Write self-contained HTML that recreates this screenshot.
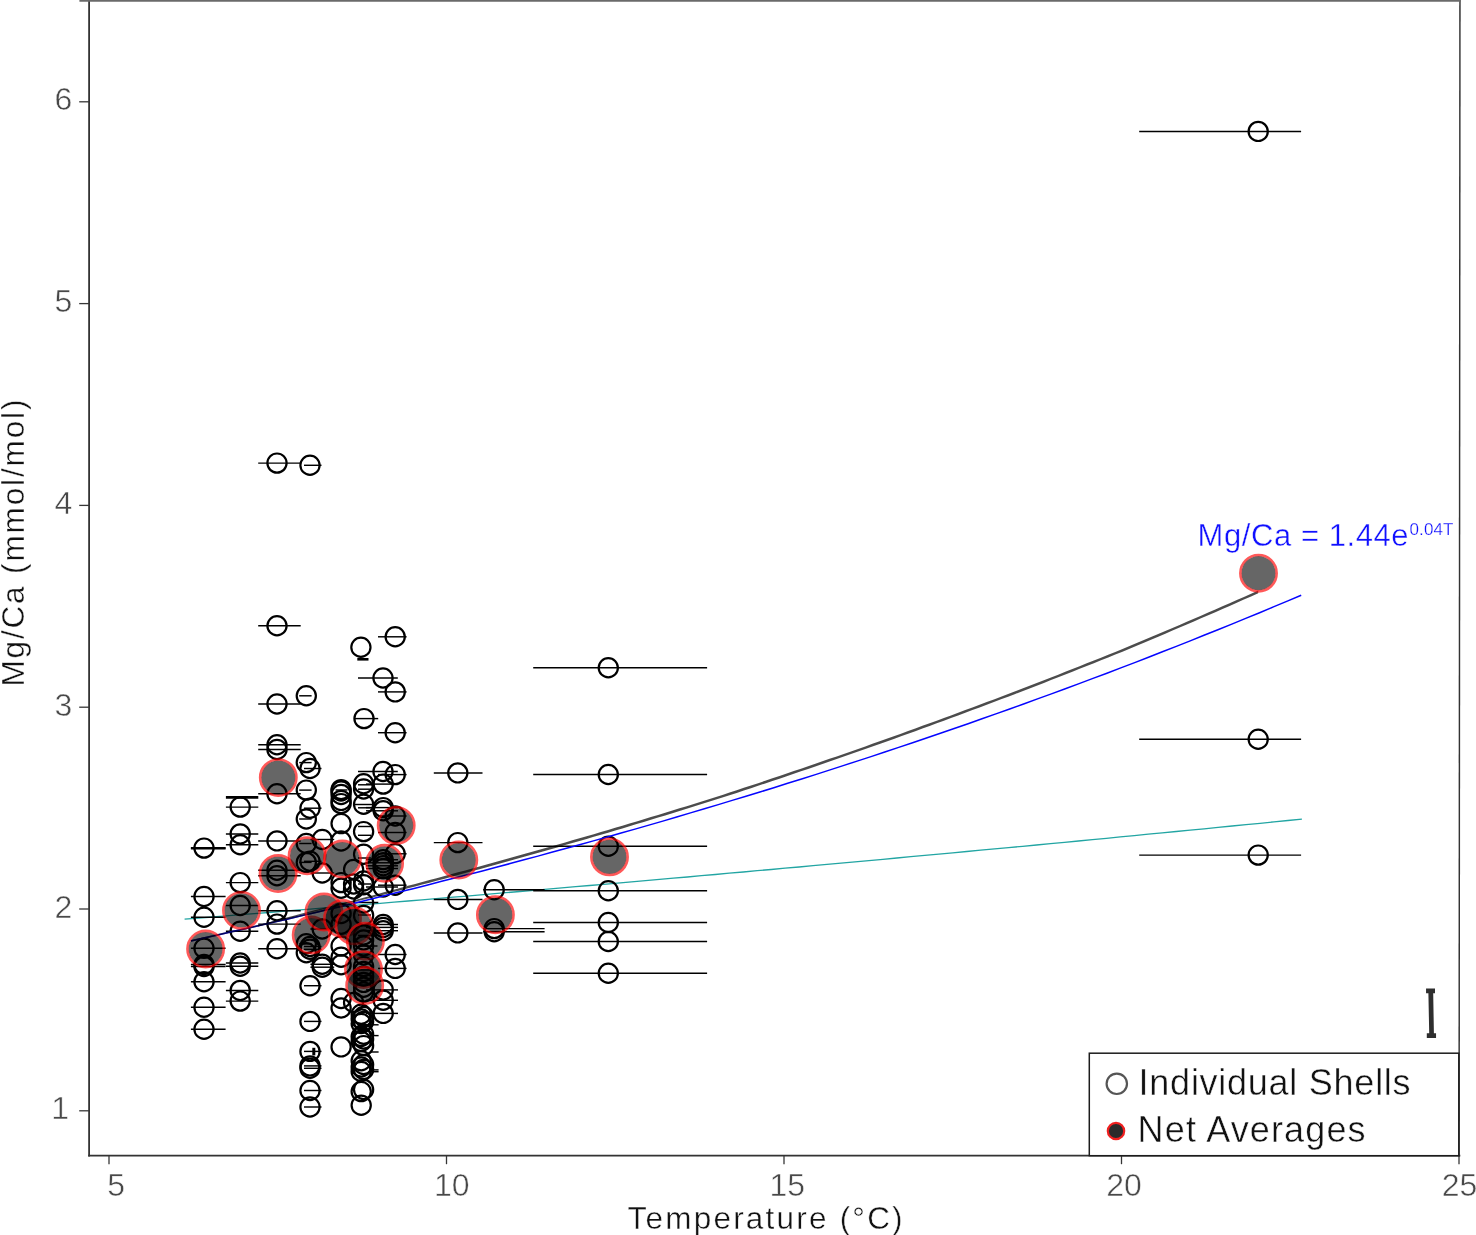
<!DOCTYPE html>
<html><head><meta charset="utf-8"><title>Mg/Ca vs Temperature</title>
<style>
html,body{margin:0;padding:0;background:#fff;}
body{width:1476px;height:1235px;overflow:hidden;}
svg{display:block;}
text{font-family:"Liberation Sans",sans-serif;}
svg{will-change:transform;}
.tk text{font-size:32px;fill:#484848;stroke:#fff;stroke-width:.5px;}
.ax{font-size:31.5px;fill:#111;stroke:#fff;stroke-width:.4px;}
.eq{font-size:31px;fill:#1010ff;stroke:#fff;stroke-width:.4px;}
.sup{font-size:17px;stroke-width:.25px;}
.lg{font-size:36px;fill:#111;stroke:#fff;stroke-width:.45px;}
</style></head><body>
<svg width="1476" height="1235" viewBox="0 0 1476 1235">
<rect width="100%" height="100%" fill="#fff"/>
<g stroke="#333" stroke-width="1.8" fill="none">
<line x1="89.1" y1="0" x2="89.1" y2="1156.5"/>
<line x1="88.2" y1="1155.7" x2="1460.3" y2="1155.7"/>
<line x1="1459.95" y1="0" x2="1459.1" y2="1156.5" stroke-width="1.45"/>
</g>
<line x1="79.4" y1="0.9" x2="1460.7" y2="0.9" stroke="#6a6a6a" stroke-width="1.9"/>
<g stroke="#363636" stroke-width="1.3">
<line x1="79.2" y1="1110.8" x2="89" y2="1110.8"/>
<line x1="79.2" y1="909.0" x2="89" y2="909.0"/>
<line x1="79.2" y1="707.2" x2="89" y2="707.2"/>
<line x1="79.2" y1="505.4" x2="89" y2="505.4"/>
<line x1="79.2" y1="303.6" x2="89" y2="303.6"/>
<line x1="79.2" y1="101.8" x2="89" y2="101.8"/>
<line x1="109.0" y1="1155.7" x2="109.0" y2="1164.2"/>
<line x1="446.5" y1="1155.7" x2="446.5" y2="1164.2"/>
<line x1="784.0" y1="1155.7" x2="784.0" y2="1164.2"/>
<line x1="1121.5" y1="1155.7" x2="1121.5" y2="1164.2"/>
<line x1="1459.0" y1="1155.7" x2="1459.0" y2="1164.2"/>
</g>
<g class="tk">
<text x="69.0" y="1119.3" text-anchor="end">1</text>
<text x="72.3" y="917.5" text-anchor="end">2</text>
<text x="72.3" y="715.7" text-anchor="end">3</text>
<text x="72.3" y="513.9" text-anchor="end">4</text>
<text x="72.3" y="312.1" text-anchor="end">5</text>
<text x="72.3" y="110.3" text-anchor="end">6</text>
<text x="107.3" y="1196.2">5</text>
<text x="434.0" y="1196.2">10</text>
<text x="769.5" y="1196.2">15</text>
<text x="1106.3" y="1196.2">20</text>
<text x="1441.8" y="1196.2">25</text>
</g>
<text class="ax" x="627.6" y="1228.5" textLength="275" lengthAdjust="spacing">Temperature (°C)</text>
<text class="ax" transform="translate(24.2,686.6) rotate(-90)" textLength="287" lengthAdjust="spacing">Mg/Ca (mmol/mol)</text>
<polyline points="184.6,919.2 198.6,918.1 212.5,917.0 226.5,915.9 240.5,914.7 254.4,913.6 268.4,912.5 282.4,911.3 296.3,910.2 310.3,909.1 324.3,907.9 338.2,906.8 352.2,905.6 366.2,904.4 380.1,903.3 394.1,902.1 408.1,901.0 422.0,899.8 436.0,898.6 450.0,897.4 463.9,896.3 477.9,895.1 491.9,893.9 505.8,892.7 519.8,891.5 533.8,890.3 547.7,889.1 561.7,887.9 575.7,886.7 589.6,885.5 603.6,884.3 617.6,883.1 631.5,881.9 645.5,880.6 659.5,879.4 673.4,878.2 687.4,877.0 701.4,875.7 715.3,874.5 729.3,873.2 743.3,872.0 757.2,870.7 771.2,869.5 785.1,868.2 799.1,867.0 813.1,865.7 827.0,864.4 841.0,863.2 855.0,861.9 868.9,860.6 882.9,859.3 896.9,858.0 910.8,856.7 924.8,855.4 938.8,854.1 952.7,852.8 966.7,851.5 980.7,850.2 994.6,848.9 1008.6,847.6 1022.6,846.3 1036.5,845.0 1050.5,843.6 1064.5,842.3 1078.4,841.0 1092.4,839.6 1106.4,838.3 1120.3,836.9 1134.3,835.6 1148.3,834.2 1162.2,832.9 1176.2,831.5 1190.2,830.1 1204.1,828.8 1218.1,827.4 1232.1,826.0 1246.0,824.6 1260.0,823.3 1274.0,821.9 1287.9,820.5 1301.9,819.1" fill="none" stroke="#22a5a3" stroke-width="1.35"/>
<g stroke="#000" stroke-width="1.45">
<line x1="190.9" y1="848.1" x2="225.6" y2="848.1"/>
<line x1="190.9" y1="896.5" x2="225.6" y2="896.5"/>
<line x1="190.9" y1="917.2" x2="225.6" y2="917.2"/>
<line x1="190.9" y1="948.2" x2="225.6" y2="948.2"/>
<line x1="190.9" y1="964.5" x2="225.6" y2="964.5"/>
<line x1="190.9" y1="966.5" x2="225.6" y2="966.5"/>
<line x1="190.9" y1="981.7" x2="225.6" y2="981.7"/>
<line x1="190.9" y1="1007.2" x2="225.6" y2="1007.2"/>
<line x1="190.9" y1="1029.3" x2="225.6" y2="1029.3"/>
<line x1="225.9" y1="807.1" x2="258.3" y2="807.1"/>
<line x1="225.9" y1="833.9" x2="258.3" y2="833.9"/>
<line x1="225.9" y1="844.7" x2="258.3" y2="844.7"/>
<line x1="225.9" y1="882.6" x2="258.3" y2="882.6"/>
<line x1="225.9" y1="905.5" x2="258.3" y2="905.5"/>
<line x1="225.9" y1="931.2" x2="258.3" y2="931.2"/>
<line x1="225.9" y1="963.0" x2="258.3" y2="963.0"/>
<line x1="225.9" y1="966.3" x2="258.3" y2="966.3"/>
<line x1="225.9" y1="990.4" x2="258.3" y2="990.4"/>
<line x1="225.9" y1="1001.1" x2="258.3" y2="1001.1"/>
<line x1="258.2" y1="463.1" x2="300.7" y2="463.1"/>
<line x1="258.2" y1="625.8" x2="300.7" y2="625.8"/>
<line x1="258.2" y1="704.0" x2="300.7" y2="704.0"/>
<line x1="258.2" y1="744.7" x2="300.7" y2="744.7"/>
<line x1="258.2" y1="749.5" x2="300.7" y2="749.5"/>
<line x1="258.2" y1="793.7" x2="300.7" y2="793.7"/>
<line x1="258.2" y1="840.9" x2="300.7" y2="840.9"/>
<line x1="258.2" y1="870.3" x2="300.7" y2="870.3"/>
<line x1="258.2" y1="875.8" x2="300.7" y2="875.8"/>
<line x1="258.2" y1="910.8" x2="300.7" y2="910.8"/>
<line x1="258.2" y1="924.1" x2="300.7" y2="924.1"/>
<line x1="258.2" y1="948.8" x2="300.7" y2="948.8"/>
<line x1="299.2" y1="695.8" x2="311.6" y2="695.8"/>
<line x1="299.2" y1="762.6" x2="311.6" y2="762.6"/>
<line x1="299.2" y1="790.1" x2="311.6" y2="790.1"/>
<line x1="299.2" y1="819.0" x2="311.6" y2="819.0"/>
<line x1="299.2" y1="843.5" x2="311.6" y2="843.5"/>
<line x1="299.2" y1="862.4" x2="311.6" y2="862.4"/>
<line x1="299.2" y1="943.8" x2="311.6" y2="943.8"/>
<line x1="299.2" y1="952.8" x2="311.6" y2="952.8"/>
<line x1="304.0" y1="465.3" x2="321.5" y2="465.3"/>
<line x1="304.0" y1="768.5" x2="321.5" y2="768.5"/>
<line x1="304.0" y1="808.2" x2="321.5" y2="808.2"/>
<line x1="304.0" y1="861.3" x2="321.5" y2="861.3"/>
<line x1="304.0" y1="946.5" x2="321.5" y2="946.5"/>
<line x1="304.0" y1="949.3" x2="321.5" y2="949.3"/>
<line x1="304.0" y1="985.7" x2="321.5" y2="985.7"/>
<line x1="304.0" y1="1021.4" x2="321.5" y2="1021.4"/>
<line x1="304.0" y1="1051.4" x2="321.5" y2="1051.4"/>
<line x1="304.0" y1="1065.9" x2="321.5" y2="1065.9"/>
<line x1="304.0" y1="1068.3" x2="321.5" y2="1068.3"/>
<line x1="304.0" y1="1090.5" x2="321.5" y2="1090.5"/>
<line x1="304.0" y1="1107.0" x2="321.5" y2="1107.0"/>
<line x1="310.4" y1="839.5" x2="334.2" y2="839.5"/>
<line x1="310.4" y1="873.0" x2="334.2" y2="873.0"/>
<line x1="310.4" y1="929.0" x2="334.2" y2="929.0"/>
<line x1="310.4" y1="964.3" x2="334.2" y2="964.3"/>
<line x1="310.4" y1="967.2" x2="334.2" y2="967.2"/>
<line x1="354.4" y1="718.6" x2="378.2" y2="718.6"/>
<line x1="358.0" y1="678.0" x2="397.8" y2="678.0"/>
<line x1="358.0" y1="771.5" x2="397.8" y2="771.5"/>
<line x1="366.0" y1="784.1" x2="398.0" y2="784.1"/>
<line x1="366.0" y1="807.6" x2="398.0" y2="807.6"/>
<line x1="366.0" y1="810.8" x2="398.0" y2="810.8"/>
<line x1="366.0" y1="859.7" x2="398.0" y2="859.7"/>
<line x1="366.0" y1="862.8" x2="398.0" y2="862.8"/>
<line x1="366.0" y1="865.8" x2="398.0" y2="865.8"/>
<line x1="366.0" y1="868.5" x2="398.0" y2="868.5"/>
<line x1="366.0" y1="887.0" x2="398.0" y2="887.0"/>
<line x1="366.0" y1="924.5" x2="398.0" y2="924.5"/>
<line x1="366.0" y1="927.4" x2="398.0" y2="927.4"/>
<line x1="366.0" y1="930.7" x2="398.0" y2="930.7"/>
<line x1="366.0" y1="989.9" x2="398.0" y2="989.9"/>
<line x1="366.0" y1="1000.3" x2="398.0" y2="1000.3"/>
<line x1="366.0" y1="1013.4" x2="398.0" y2="1013.4"/>
<line x1="378.0" y1="636.8" x2="406.6" y2="636.8"/>
<line x1="378.0" y1="691.9" x2="406.6" y2="691.9"/>
<line x1="378.0" y1="732.7" x2="406.6" y2="732.7"/>
<line x1="378.0" y1="774.6" x2="406.6" y2="774.6"/>
<line x1="378.0" y1="816.0" x2="406.6" y2="816.0"/>
<line x1="378.0" y1="832.5" x2="406.6" y2="832.5"/>
<line x1="378.0" y1="853.8" x2="406.6" y2="853.8"/>
<line x1="378.0" y1="885.2" x2="406.6" y2="885.2"/>
<line x1="378.0" y1="954.5" x2="406.6" y2="954.5"/>
<line x1="378.0" y1="968.4" x2="406.6" y2="968.4"/>
<line x1="433.8" y1="772.9" x2="482.5" y2="772.9"/>
<line x1="433.8" y1="842.6" x2="482.5" y2="842.6"/>
<line x1="433.8" y1="899.4" x2="482.5" y2="899.4"/>
<line x1="433.8" y1="932.9" x2="482.5" y2="932.9"/>
<line x1="483.1" y1="889.8" x2="544.6" y2="889.8"/>
<line x1="483.1" y1="928.6" x2="544.6" y2="928.6"/>
<line x1="483.1" y1="931.7" x2="544.6" y2="931.7"/>
<line x1="533.2" y1="667.7" x2="707.1" y2="667.7"/>
<line x1="533.2" y1="774.5" x2="707.1" y2="774.5"/>
<line x1="533.2" y1="846.2" x2="707.1" y2="846.2"/>
<line x1="533.2" y1="890.8" x2="707.1" y2="890.8"/>
<line x1="533.2" y1="922.5" x2="707.1" y2="922.5"/>
<line x1="533.2" y1="941.5" x2="707.1" y2="941.5"/>
<line x1="533.2" y1="973.2" x2="707.1" y2="973.2"/>
<line x1="1139.2" y1="131.4" x2="1301.1" y2="131.4"/>
<line x1="1139.2" y1="739.2" x2="1301.1" y2="739.2"/>
<line x1="1139.2" y1="855.1" x2="1301.1" y2="855.1"/>
</g>
<line x1="335.6" y1="790.0" x2="347.4" y2="790.0" stroke="#000" stroke-width="1.45"/>
<line x1="355.7" y1="902.5" x2="378.3" y2="902.5" stroke="#000" stroke-width="1.45"/>
<line x1="370" y1="1024.8" x2="378.6" y2="1024.8" stroke="#000" stroke-width="1.45"/>
<line x1="370" y1="1035.6" x2="378.6" y2="1035.6" stroke="#000" stroke-width="1.45"/>
<line x1="370" y1="1052.0" x2="378.6" y2="1052.0" stroke="#000" stroke-width="1.45"/>
<line x1="370" y1="1069.9" x2="378.6" y2="1069.9" stroke="#000" stroke-width="1.45"/>
<line x1="370" y1="1071.7" x2="378.6" y2="1071.7" stroke="#000" stroke-width="1.45"/>
<line x1="358" y1="784.8" x2="371.5" y2="784.8" stroke="#000" stroke-width="1.45"/>
<line x1="358" y1="789.2" x2="371.5" y2="789.2" stroke="#000" stroke-width="1.45"/>
<line x1="355" y1="804.5" x2="372.2" y2="804.5" stroke="#000" stroke-width="1.45"/>
<line x1="358" y1="807.8" x2="371.5" y2="807.8" stroke="#000" stroke-width="1.45"/>
<line x1="358" y1="826.5" x2="371" y2="826.5" stroke="#000" stroke-width="1.45"/>
<line x1="358" y1="835.3" x2="371" y2="835.3" stroke="#000" stroke-width="1.45"/>
<line x1="358" y1="858.0" x2="371" y2="858.0" stroke="#000" stroke-width="1.45"/>
<line x1="358" y1="884.0" x2="371" y2="884.0" stroke="#000" stroke-width="1.45"/>
<line x1="358" y1="946.0" x2="377.5" y2="946.0" stroke="#000" stroke-width="1.45"/>
<line x1="358" y1="935.5" x2="377.5" y2="935.5" stroke="#000" stroke-width="1.45"/>
<line x1="358" y1="915.0" x2="371" y2="915.0" stroke="#000" stroke-width="1.45"/>
<line x1="358" y1="970.0" x2="371" y2="970.0" stroke="#000" stroke-width="1.45"/>
<line x1="358" y1="985.0" x2="371" y2="985.0" stroke="#000" stroke-width="1.45"/>
<line x1="225.9" y1="797.4" x2="258.3" y2="797.4" stroke="#000" stroke-width="2.8"/>
<line x1="190.9" y1="848.3" x2="225.6" y2="848.3" stroke="#000" stroke-width="2.6"/>
<line x1="357.3" y1="659.3" x2="368.5" y2="659.3" stroke="#000" stroke-width="2.6"/>
<line x1="313.8" y1="1047.8" x2="313.8" y2="1055.4" stroke="#000" stroke-width="3"/>
<g fill="none" stroke="#000" stroke-width="2.2">
<circle cx="204.0" cy="848.1" r="9.6"/>
<circle cx="204.0" cy="896.5" r="9.6"/>
<circle cx="204.0" cy="917.2" r="9.6"/>
<circle cx="204.0" cy="948.2" r="9.6"/>
<circle cx="204.0" cy="964.5" r="9.6"/>
<circle cx="204.0" cy="966.5" r="9.6"/>
<circle cx="204.0" cy="981.7" r="9.6"/>
<circle cx="204.0" cy="1007.2" r="9.6"/>
<circle cx="204.0" cy="1029.3" r="9.6"/>
<circle cx="240.2" cy="807.1" r="9.6"/>
<circle cx="240.2" cy="833.9" r="9.6"/>
<circle cx="240.2" cy="844.7" r="9.6"/>
<circle cx="240.2" cy="882.6" r="9.6"/>
<circle cx="240.2" cy="905.5" r="9.6"/>
<circle cx="240.2" cy="931.2" r="9.6"/>
<circle cx="240.2" cy="963.0" r="9.6"/>
<circle cx="240.2" cy="966.3" r="9.6"/>
<circle cx="240.2" cy="990.4" r="9.6"/>
<circle cx="240.2" cy="1001.1" r="9.6"/>
<circle cx="277.0" cy="463.1" r="9.6"/>
<circle cx="277.0" cy="625.8" r="9.6"/>
<circle cx="277.0" cy="704.0" r="9.6"/>
<circle cx="277.0" cy="744.7" r="9.6"/>
<circle cx="277.0" cy="749.5" r="9.6"/>
<circle cx="277.0" cy="793.7" r="9.6"/>
<circle cx="277.0" cy="840.9" r="9.6"/>
<circle cx="277.0" cy="870.3" r="9.6"/>
<circle cx="277.0" cy="875.8" r="9.6"/>
<circle cx="277.0" cy="910.8" r="9.6"/>
<circle cx="277.0" cy="924.1" r="9.6"/>
<circle cx="277.0" cy="948.8" r="9.6"/>
<circle cx="306.3" cy="695.8" r="9.6"/>
<circle cx="306.3" cy="762.6" r="9.6"/>
<circle cx="306.3" cy="790.1" r="9.6"/>
<circle cx="306.3" cy="819.0" r="9.6"/>
<circle cx="306.3" cy="843.5" r="9.6"/>
<circle cx="306.3" cy="862.4" r="9.6"/>
<circle cx="306.3" cy="943.8" r="9.6"/>
<circle cx="306.3" cy="952.8" r="9.6"/>
<circle cx="310.0" cy="465.3" r="9.6"/>
<circle cx="310.0" cy="768.5" r="9.6"/>
<circle cx="310.0" cy="808.2" r="9.6"/>
<circle cx="310.0" cy="861.3" r="9.6"/>
<circle cx="310.0" cy="946.5" r="9.6"/>
<circle cx="310.0" cy="949.3" r="9.6"/>
<circle cx="310.0" cy="985.7" r="9.6"/>
<circle cx="310.0" cy="1021.4" r="9.6"/>
<circle cx="310.0" cy="1051.4" r="9.6"/>
<circle cx="310.0" cy="1065.9" r="9.6"/>
<circle cx="310.0" cy="1068.3" r="9.6"/>
<circle cx="310.0" cy="1090.5" r="9.6"/>
<circle cx="310.0" cy="1107.0" r="9.6"/>
<circle cx="322.2" cy="839.5" r="9.6"/>
<circle cx="322.2" cy="873.0" r="9.6"/>
<circle cx="322.2" cy="929.0" r="9.6"/>
<circle cx="322.2" cy="964.3" r="9.6"/>
<circle cx="322.2" cy="967.2" r="9.6"/>
<circle cx="341.1" cy="789.6" r="9.6"/>
<circle cx="341.1" cy="791.0" r="9.6"/>
<circle cx="341.1" cy="794.5" r="9.6"/>
<circle cx="341.1" cy="800.4" r="9.6"/>
<circle cx="341.1" cy="803.6" r="9.6"/>
<circle cx="341.1" cy="823.6" r="9.6"/>
<circle cx="341.1" cy="841.0" r="9.6"/>
<circle cx="341.1" cy="882.6" r="9.6"/>
<circle cx="341.1" cy="888.3" r="9.6"/>
<circle cx="341.1" cy="913.5" r="9.6"/>
<circle cx="341.1" cy="924.2" r="9.6"/>
<circle cx="341.1" cy="946.0" r="9.6"/>
<circle cx="341.1" cy="957.2" r="9.6"/>
<circle cx="341.1" cy="964.8" r="9.6"/>
<circle cx="341.1" cy="998.5" r="9.6"/>
<circle cx="341.1" cy="1008.0" r="9.6"/>
<circle cx="341.1" cy="1046.9" r="9.6"/>
<circle cx="353.6" cy="869.5" r="9.6"/>
<circle cx="353.6" cy="884.0" r="9.6"/>
<circle cx="353.6" cy="889.0" r="9.6"/>
<circle cx="353.6" cy="1002.5" r="9.6"/>
<circle cx="361.2" cy="1014.3" r="9.6"/>
<circle cx="361.2" cy="1019.0" r="9.6"/>
<circle cx="361.2" cy="1023.5" r="9.6"/>
<circle cx="361.2" cy="1036.5" r="9.6"/>
<circle cx="361.2" cy="1041.5" r="9.6"/>
<circle cx="361.2" cy="1060.8" r="9.6"/>
<circle cx="361.2" cy="1067.0" r="9.6"/>
<circle cx="361.2" cy="1071.5" r="9.6"/>
<circle cx="361.2" cy="1091.6" r="9.6"/>
<circle cx="361.2" cy="1105.3" r="9.6"/>
<circle cx="364.0" cy="718.6" r="9.6"/>
<circle cx="363.6" cy="1016.5" r="9.6"/>
<circle cx="363.6" cy="1021.5" r="9.6"/>
<circle cx="363.6" cy="1034.3" r="9.6"/>
<circle cx="363.6" cy="1039.0" r="9.6"/>
<circle cx="363.6" cy="1045.6" r="9.6"/>
<circle cx="363.6" cy="1064.5" r="9.6"/>
<circle cx="363.6" cy="1069.5" r="9.6"/>
<circle cx="363.6" cy="1089.5" r="9.6"/>
<circle cx="360.9" cy="647.2" r="9.6"/>
<circle cx="363.6" cy="783.7" r="9.6"/>
<circle cx="363.6" cy="789.0" r="9.6"/>
<circle cx="363.6" cy="804.2" r="9.6"/>
<circle cx="363.6" cy="831.6" r="9.6"/>
<circle cx="363.6" cy="854.2" r="9.6"/>
<circle cx="363.6" cy="881.0" r="9.6"/>
<circle cx="363.6" cy="884.8" r="9.6"/>
<circle cx="363.6" cy="903.0" r="9.6"/>
<circle cx="363.6" cy="915.4" r="9.6"/>
<circle cx="363.6" cy="935.0" r="9.6"/>
<circle cx="363.6" cy="940.0" r="9.6"/>
<circle cx="363.6" cy="946.0" r="9.6"/>
<circle cx="363.6" cy="955.0" r="9.6"/>
<circle cx="363.6" cy="966.6" r="9.6"/>
<circle cx="363.6" cy="971.5" r="9.6"/>
<circle cx="363.6" cy="976.3" r="9.6"/>
<circle cx="363.6" cy="982.4" r="9.6"/>
<circle cx="363.6" cy="987.3" r="9.6"/>
<circle cx="363.6" cy="992.1" r="9.6"/>
<circle cx="383.0" cy="678.0" r="9.6"/>
<circle cx="383.0" cy="771.5" r="9.6"/>
<circle cx="383.2" cy="784.1" r="9.6"/>
<circle cx="383.2" cy="807.6" r="9.6"/>
<circle cx="383.2" cy="810.8" r="9.6"/>
<circle cx="383.2" cy="859.7" r="9.6"/>
<circle cx="383.2" cy="862.8" r="9.6"/>
<circle cx="383.2" cy="865.8" r="9.6"/>
<circle cx="383.2" cy="868.5" r="9.6"/>
<circle cx="383.2" cy="887.0" r="9.6"/>
<circle cx="383.2" cy="924.5" r="9.6"/>
<circle cx="383.2" cy="927.4" r="9.6"/>
<circle cx="383.2" cy="930.7" r="9.6"/>
<circle cx="383.2" cy="989.9" r="9.6"/>
<circle cx="383.2" cy="1000.3" r="9.6"/>
<circle cx="383.2" cy="1013.4" r="9.6"/>
<circle cx="395.2" cy="636.8" r="9.6"/>
<circle cx="395.2" cy="691.9" r="9.6"/>
<circle cx="395.2" cy="732.7" r="9.6"/>
<circle cx="395.2" cy="774.6" r="9.6"/>
<circle cx="395.2" cy="816.0" r="9.6"/>
<circle cx="395.2" cy="832.5" r="9.6"/>
<circle cx="395.2" cy="853.8" r="9.6"/>
<circle cx="395.2" cy="885.2" r="9.6"/>
<circle cx="395.2" cy="954.5" r="9.6"/>
<circle cx="395.2" cy="968.4" r="9.6"/>
<circle cx="457.8" cy="772.9" r="9.6"/>
<circle cx="457.8" cy="842.6" r="9.6"/>
<circle cx="457.8" cy="899.4" r="9.6"/>
<circle cx="457.8" cy="932.9" r="9.6"/>
<circle cx="494.2" cy="889.8" r="9.6"/>
<circle cx="494.2" cy="928.6" r="9.6"/>
<circle cx="494.2" cy="931.7" r="9.6"/>
<circle cx="608.3" cy="667.7" r="9.6"/>
<circle cx="608.3" cy="774.5" r="9.6"/>
<circle cx="608.3" cy="846.2" r="9.6"/>
<circle cx="608.3" cy="890.8" r="9.6"/>
<circle cx="608.3" cy="922.5" r="9.6"/>
<circle cx="608.3" cy="941.5" r="9.6"/>
<circle cx="608.3" cy="973.2" r="9.6"/>
<circle cx="1258.2" cy="131.4" r="9.6"/>
<circle cx="1258.2" cy="739.2" r="9.6"/>
<circle cx="1258.2" cy="855.1" r="9.6"/>
</g>
<polyline points="190.9,940.9 204.8,937.8 218.7,934.7 232.5,931.6 246.4,928.5 260.3,925.3 274.2,922.1 288.1,918.9 301.9,915.6 315.8,912.4 329.7,909.1 343.6,905.7 357.4,902.4 371.3,899.0 385.2,895.6 399.1,892.1 413.0,888.7 426.8,885.2 440.7,881.6 454.6,878.1 468.5,874.5 482.4,870.9 496.2,867.2 510.1,863.6 524.0,859.8 537.9,856.1 551.7,852.3 565.6,848.5 579.5,844.7 593.4,840.9 607.3,837.0 621.1,833.0 635.0,829.1 648.9,825.1 662.8,821.1 676.7,817.0 690.5,812.9 704.4,808.8 718.3,804.6 732.2,800.4 746.0,796.2 759.9,792.0 773.8,787.7 787.7,783.3 801.6,779.0 815.4,774.6 829.3,770.1 843.2,765.6 857.1,761.1 871.0,756.6 884.8,752.0 898.7,747.4 912.6,742.7 926.5,738.0 940.4,733.3 954.2,728.5 968.1,723.7 982.0,718.8 995.9,713.9 1009.7,709.0 1023.6,704.0 1037.5,698.9 1051.4,693.9 1065.3,688.8 1079.1,683.6 1093.0,678.4 1106.9,673.2 1120.8,667.9 1134.7,662.6 1148.5,657.2 1162.4,651.8 1176.3,646.4 1190.2,640.9 1204.0,635.3 1217.9,629.8 1231.8,624.1 1245.7,618.4 1259.6,612.7 1273.4,606.9 1287.3,601.1 1301.2,595.2" fill="none" stroke="#0505ff" stroke-width="1.5"/>
<polyline points="190.9,940.9 196.3,939.7 201.6,938.5 207.0,937.3 212.4,936.1 217.8,934.9 223.1,933.7 228.5,932.5 233.9,931.3 239.2,930.1 244.6,928.9 250.0,927.7 255.3,926.4 260.7,925.2 266.1,924.0 271.4,922.7 276.8,921.5 282.2,920.2 287.6,919.0 292.9,917.7 298.3,916.5 303.7,915.2 309.0,914.0 314.4,912.7 319.8,911.4 325.1,910.1 330.5,908.9 335.9,907.6 341.3,906.3 346.6,905.0 352.0,903.7" fill="none" stroke="rgba(0,0,0,0.6)" stroke-width="1.7"/>
<polygon points="258.0,925.26 265.1,923.36 272.3,921.45 279.4,919.54 286.6,917.62 293.7,915.70 300.9,913.76 308.0,911.88 315.2,910.09 322.3,908.28 329.4,906.47 336.6,904.65 343.7,902.83 350.9,900.98 358.0,899.13 365.2,897.28 372.3,895.41 379.5,893.51 386.6,891.59 393.7,889.66 400.9,887.73 408.0,885.83 415.2,883.93 422.3,882.02 429.5,880.10 436.6,878.17 443.8,876.23 450.9,874.28 458.0,872.34 465.2,870.39 472.3,868.44 479.5,866.47 486.6,864.50 493.8,862.52 500.9,860.53 508.1,858.53 515.2,856.53 522.3,854.52 529.5,852.52 536.6,850.52 543.8,848.50 550.9,846.48 558.1,844.45 565.2,842.41 572.3,840.37 579.5,838.31 586.6,836.25 593.8,834.17 600.9,832.09 608.1,829.97 615.2,827.85 622.4,825.72 629.5,823.57 636.6,821.42 643.8,819.26 650.9,817.10 658.1,814.92 665.2,812.73 672.4,810.54 679.5,808.34 686.7,806.13 693.8,803.91 700.9,801.68 708.1,799.44 715.2,797.19 722.4,794.91 729.5,792.57 736.7,790.23 743.8,787.87 751.0,785.50 758.1,783.13 765.2,780.75 772.4,778.35 779.5,775.95 786.7,773.54 793.8,771.12 801.0,768.69 808.1,766.25 815.3,763.80 822.4,761.34 829.5,758.87 836.7,756.39 843.8,753.90 851.0,751.41 858.1,748.90 865.3,746.38 872.4,743.85 879.6,741.31 886.7,738.77 893.8,736.21 901.0,733.64 908.1,731.06 915.3,728.47 922.4,725.87 929.6,723.27 936.7,720.65 943.9,718.02 951.0,715.39 958.1,712.75 965.3,710.10 972.4,707.43 979.6,704.76 986.7,702.07 993.9,699.38 1001.0,696.67 1008.1,693.96 1015.3,691.23 1022.4,688.49 1029.6,685.74 1036.7,682.98 1043.9,680.21 1051.0,677.43 1058.2,674.63 1065.3,671.83 1072.4,669.02 1079.6,666.19 1086.7,663.35 1093.9,660.50 1101.0,657.64 1108.2,654.77 1115.3,651.89 1122.5,648.97 1129.6,646.00 1136.7,643.02 1143.9,640.03 1151.0,637.03 1158.2,634.01 1165.3,630.98 1172.5,627.95 1179.6,624.90 1186.8,621.83 1193.9,618.76 1201.0,615.67 1208.2,612.57 1215.3,609.46 1222.5,606.34 1229.6,603.20 1236.8,600.06 1243.9,596.90 1251.1,593.72 1258.2,590.54 1258.2,593.22 1251.1,596.40 1243.9,599.57 1236.8,602.73 1229.6,605.88 1222.5,609.02 1215.3,612.14 1208.2,615.25 1201.0,618.35 1193.9,621.44 1186.8,624.51 1179.6,627.57 1172.5,630.62 1165.3,633.66 1158.2,636.69 1151.0,639.70 1143.9,642.71 1136.7,645.70 1129.6,648.68 1122.5,651.65 1115.3,654.56 1108.2,657.45 1101.0,660.32 1093.9,663.18 1086.7,666.03 1079.6,668.87 1072.4,671.69 1065.3,674.51 1058.2,677.31 1051.0,680.11 1043.9,682.89 1036.7,685.66 1029.6,688.42 1022.4,691.17 1015.3,693.91 1008.1,696.63 1001.0,699.35 993.9,702.06 986.7,704.75 979.6,707.44 972.4,710.11 965.3,712.77 958.1,715.43 951.0,718.07 943.9,720.70 936.7,723.33 929.6,725.94 922.4,728.55 915.3,731.15 908.1,733.74 901.0,736.32 893.8,738.89 886.7,741.44 879.6,743.99 872.4,746.53 865.3,749.06 858.1,751.58 851.0,754.08 843.8,756.58 836.7,759.07 829.5,761.55 822.4,764.02 815.3,766.48 808.1,768.93 801.0,771.37 793.8,773.80 786.7,776.22 779.5,778.63 772.4,781.03 765.2,783.43 758.1,785.81 751.0,788.18 743.8,790.55 736.7,792.90 729.5,795.25 722.4,797.59 715.2,799.87 708.1,802.12 700.9,804.35 693.8,806.58 686.7,808.80 679.5,811.02 672.4,813.22 665.2,815.41 658.1,817.60 650.9,819.77 643.8,821.94 636.6,824.10 629.5,826.25 622.4,828.39 615.2,830.53 608.1,832.65 600.9,834.77 593.8,836.85 586.6,838.92 579.5,840.99 572.3,843.04 565.2,845.09 558.1,847.13 550.9,849.16 543.8,851.18 536.6,853.20 529.5,855.20 522.3,857.20 515.2,859.21 508.1,861.21 500.9,863.21 493.8,865.20 486.6,867.18 479.5,869.15 472.3,871.11 465.2,873.07 458.0,875.02 450.9,876.96 443.8,878.88 436.6,880.79 429.5,882.70 422.3,884.58 415.2,886.46 408.0,888.34 400.9,890.20 393.7,892.05 386.6,893.88 379.5,895.71 372.3,897.52 365.2,899.29 358.0,901.06 350.9,902.81 343.7,904.56 336.6,906.32 329.4,908.06 322.3,909.80 315.2,911.53 308.0,913.25 300.9,915.08 293.7,916.98 286.6,918.88 279.4,920.77 272.3,922.65 265.1,924.52 258.0,926.39" fill="rgba(0,0,0,0.7)"/>
<circle cx="205.6" cy="949.0" r="17.1" fill="rgba(0,0,0,0.6)"/><circle cx="205.6" cy="949.0" r="18.15" fill="none" stroke="rgba(255,0,0,0.65)" stroke-width="2.6"/>
<circle cx="241.5" cy="910.4" r="17.1" fill="rgba(0,0,0,0.6)"/><circle cx="241.5" cy="910.4" r="18.15" fill="none" stroke="rgba(255,0,0,0.65)" stroke-width="2.6"/>
<circle cx="278.3" cy="777.6" r="17.1" fill="rgba(0,0,0,0.6)"/><circle cx="278.3" cy="777.6" r="18.15" fill="none" stroke="rgba(255,0,0,0.65)" stroke-width="2.6"/>
<circle cx="278.1" cy="873.5" r="17.1" fill="rgba(0,0,0,0.6)"/><circle cx="278.1" cy="873.5" r="18.15" fill="none" stroke="rgba(255,0,0,0.65)" stroke-width="2.6"/>
<circle cx="307.1" cy="855.8" r="17.1" fill="rgba(0,0,0,0.6)"/><circle cx="307.1" cy="855.8" r="18.15" fill="none" stroke="rgba(255,0,0,0.65)" stroke-width="2.6"/>
<circle cx="311.2" cy="935.0" r="17.1" fill="rgba(0,0,0,0.6)"/><circle cx="311.2" cy="935.0" r="18.15" fill="none" stroke="rgba(255,0,0,0.65)" stroke-width="2.6"/>
<circle cx="324.0" cy="912.0" r="17.1" fill="rgba(0,0,0,0.6)"/><circle cx="324.0" cy="912.0" r="18.15" fill="none" stroke="rgba(255,0,0,0.65)" stroke-width="2.6"/>
<circle cx="342.4" cy="859.0" r="17.1" fill="rgba(0,0,0,0.6)"/><circle cx="342.4" cy="859.0" r="18.15" fill="none" stroke="rgba(255,0,0,0.65)" stroke-width="2.6"/>
<circle cx="342.5" cy="918.5" r="17.1" fill="rgba(0,0,0,0.6)"/><circle cx="342.5" cy="918.5" r="18.15" fill="none" stroke="rgba(255,0,0,0.65)" stroke-width="2.6"/>
<circle cx="354.2" cy="925.9" r="17.1" fill="rgba(0,0,0,0.6)"/><circle cx="354.2" cy="925.9" r="18.15" fill="none" stroke="rgba(255,0,0,0.65)" stroke-width="2.6"/>
<circle cx="365.4" cy="941.3" r="17.1" fill="rgba(0,0,0,0.6)"/><circle cx="365.4" cy="941.3" r="18.15" fill="none" stroke="rgba(255,0,0,0.65)" stroke-width="2.6"/>
<circle cx="363.5" cy="969.6" r="17.1" fill="rgba(0,0,0,0.6)"/><circle cx="363.5" cy="969.6" r="18.15" fill="none" stroke="rgba(255,0,0,0.65)" stroke-width="2.6"/>
<circle cx="364.7" cy="985.5" r="17.1" fill="rgba(0,0,0,0.6)"/><circle cx="364.7" cy="985.5" r="18.15" fill="none" stroke="rgba(255,0,0,0.65)" stroke-width="2.6"/>
<circle cx="384.6" cy="863.3" r="17.1" fill="rgba(0,0,0,0.6)"/><circle cx="384.6" cy="863.3" r="18.15" fill="none" stroke="rgba(255,0,0,0.65)" stroke-width="2.6"/>
<circle cx="396.2" cy="825.4" r="17.1" fill="rgba(0,0,0,0.6)"/><circle cx="396.2" cy="825.4" r="18.15" fill="none" stroke="rgba(255,0,0,0.65)" stroke-width="2.6"/>
<circle cx="458.8" cy="860.0" r="17.1" fill="rgba(0,0,0,0.6)"/><circle cx="458.8" cy="860.0" r="18.15" fill="none" stroke="rgba(255,0,0,0.65)" stroke-width="2.6"/>
<circle cx="495.4" cy="914.8" r="17.1" fill="rgba(0,0,0,0.6)"/><circle cx="495.4" cy="914.8" r="18.15" fill="none" stroke="rgba(255,0,0,0.65)" stroke-width="2.6"/>
<circle cx="609.5" cy="856.9" r="17.1" fill="rgba(0,0,0,0.6)"/><circle cx="609.5" cy="856.9" r="18.15" fill="none" stroke="rgba(255,0,0,0.65)" stroke-width="2.6"/>
<circle cx="1258.5" cy="573.2" r="17.1" fill="rgba(0,0,0,0.6)"/><circle cx="1258.5" cy="573.2" r="18.15" fill="none" stroke="rgba(255,0,0,0.65)" stroke-width="2.6"/>
<text class="eq" x="1197.6" y="545.6" textLength="211" lengthAdjust="spacing">Mg/Ca = 1.44e</text>
<text class="eq sup" x="1409.5" y="535.2" textLength="44" lengthAdjust="spacing">0.04T</text>
<path d="M1426.05 988.4H1435V993.2H1433.2L1433.9 1033.2H1436.05V1037.9H1426.8V1033.2H1429.2L1428.4 993.2H1426.05Z" fill="#2e2e2e"/>
<rect x="1089.3" y="1053.2" width="369.5" height="102.5" fill="#fff" stroke="#1c1c1c" stroke-width="1.5"/>
<circle cx="1116.8" cy="1083.8" r="10.2" fill="#fff" stroke="#555" stroke-width="2.2"/>
<circle cx="1116" cy="1131" r="8.2" fill="#2a2a2a" stroke="#f02020" stroke-width="2.2"/>
<text class="lg" x="1138.6" y="1095.3" textLength="272" lengthAdjust="spacing">Individual Shells</text>
<text class="lg" x="1137.6" y="1142.4" textLength="228" lengthAdjust="spacing">Net Averages</text>
</svg>
</body></html>
